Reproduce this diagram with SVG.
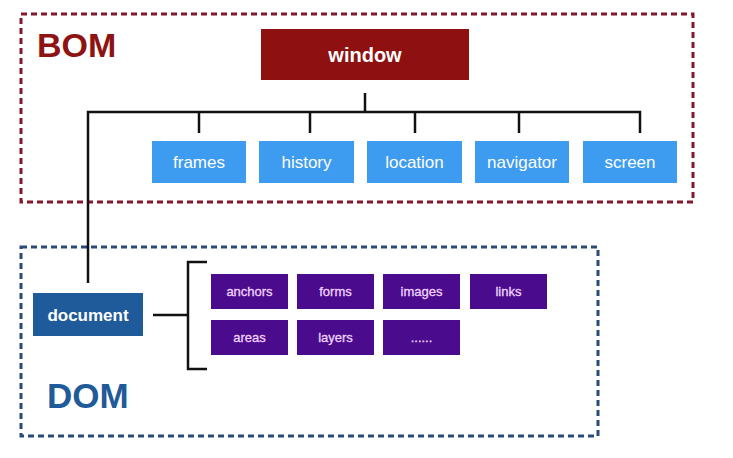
<svg xmlns="http://www.w3.org/2000/svg" width="733" height="458" viewBox="0 0 733 458">
<style>
  text { font-family: "Liberation Sans", Arial, sans-serif; text-anchor: middle; }
  .bom-frame { fill: none; stroke: #84182C; stroke-width: 3; stroke-dasharray: 6 4; }
  .dom-frame { fill: none; stroke: #2A4B78; stroke-width: 3; stroke-dasharray: 6 4; }
  .title-bom { font-size: 34px; font-weight: bold; fill: #8E1414; text-anchor: start; }
  .title-dom { font-size: 35px; font-weight: bold; fill: #1F5A99; text-anchor: start; }
  .win { fill: #8F1010; }
  .win-t { font-size: 20px; font-weight: bold; fill: #ffffff; }
  .blue { fill: #3D9BF0; }
  .blue-t { font-size: 17px; fill: #ffffff; }
  .doc { fill: #1F5A9A; }
  .doc-t { font-size: 17px; font-weight: bold; fill: #ffffff; }
  .pur { fill: #4A0B8C; }
  .pur-t { font-size: 13px; fill: #F0D4FF; stroke: #F0D4FF; stroke-width: 0.3; }
  .conn { fill: none; stroke: #111111; stroke-width: 2.5; }
</style>

<rect class="bom-frame" x="21" y="14" width="672" height="188"/>
<text class="title-bom" x="37" y="57">BOM</text>

<rect class="dom-frame" x="21" y="247" width="577" height="189"/>
<text class="title-dom" x="47" y="408">DOM</text>

<g id="connectors">
  <path class="conn" d="M365 93 V112"/>
  <path class="conn" d="M88 283 V112 H640 V133"/>
  <path class="conn" d="M199 112 V133"/>
  <path class="conn" d="M310 112 V133"/>
  <path class="conn" d="M415 112 V133"/>
  <path class="conn" d="M519 112 V133"/>
  <path class="conn" d="M153 315 H188"/>
  <path class="conn" d="M207 262 H188 V369 H207"/>
</g>

<g id="window"><rect class="win" x="261" y="29" width="208" height="51"/><text class="win-t" x="365" y="62">window</text></g>

<g id="frames"><rect class="blue" x="152" y="141" width="94" height="42"/><text class="blue-t" x="199" y="168">frames</text></g>
<g id="history"><rect class="blue" x="259" y="141" width="95" height="42"/><text class="blue-t" x="306.5" y="168">history</text></g>
<g id="location"><rect class="blue" x="367" y="141" width="95" height="42"/><text class="blue-t" x="414.5" y="168">location</text></g>
<g id="navigator"><rect class="blue" x="475" y="141" width="94" height="42"/><text class="blue-t" x="522" y="168">navigator</text></g>
<g id="screen"><rect class="blue" x="583" y="141" width="94" height="42"/><text class="blue-t" x="630" y="168">screen</text></g>

<g id="document"><rect class="doc" x="33" y="293" width="110" height="43"/><text class="doc-t" x="88" y="321">document</text></g>

<g id="anchors"><rect class="pur" x="211" y="274" width="77" height="35"/><text class="pur-t" x="249.5" y="296">anchors</text></g>
<g id="forms"><rect class="pur" x="297" y="274" width="77" height="35"/><text class="pur-t" x="335.5" y="296">forms</text></g>
<g id="images"><rect class="pur" x="383" y="274" width="77" height="35"/><text class="pur-t" x="421.5" y="296">images</text></g>
<g id="links"><rect class="pur" x="470" y="274" width="77" height="35"/><text class="pur-t" x="508.5" y="296">links</text></g>
<g id="areas"><rect class="pur" x="211" y="320" width="77" height="35"/><text class="pur-t" x="249.5" y="342">areas</text></g>
<g id="layers"><rect class="pur" x="297" y="320" width="77" height="35"/><text class="pur-t" x="335.5" y="342">layers</text></g>
<g id="more"><rect class="pur" x="383" y="320" width="77" height="35"/><text class="pur-t" x="421.5" y="342">......</text></g>
</svg>
